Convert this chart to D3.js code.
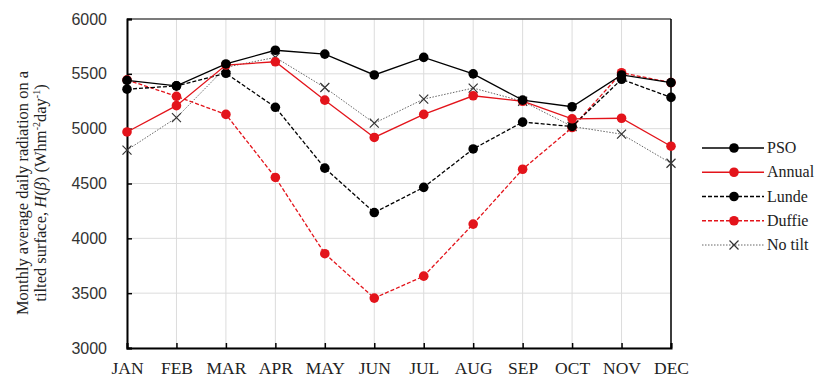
<!DOCTYPE html>
<html>
<head>
<meta charset="utf-8">
<script src="https://cdnjs.cloudflare.com/ajax/libs/d3/7.8.5/d3.min.js"></script>
<style>
  html, body { margin: 0; padding: 0; background: #fff; }
  svg { display: block; }
</style>
</head>
<body>
<svg id="chart" width="832" height="381"></svg>
<script>
// Monthly average daily radiation on a tilted surface (Wh/m²/day)
const months = ["JAN", "FEB", "MAR", "APR", "MAY", "JUN", "JUL", "AUG", "SEP", "OCT", "NOV", "DEC"];
const pso    = [5440, 5390, 5590, 5715, 5680, 5490, 5650, 5500, 5260, 5200, 5490, 5420];
const annual = [4970, 5210, 5580, 5610, 5260, 4920, 5130, 5300, 5250, 5090, 5095, 4840];
const lunde  = [5360, 5390, 5505, 5195, 4640, 4235, 4465, 4815, 5060, 5020, 5450, 5285];
const duffie = [5445, 5295, 5130, 4555, 3860, 3455, 3655, 4130, 4630, 5010, 5510, 5420];
const noTilt = [4805, 5100, 5560, 5650, 5375, 5050, 5270, 5370, 5250, 5020, 4950, 4685];
const yTicks = [3000, 3500, 4000, 4500, 5000, 5500, 6000];
const seriesNames = ["PSO", "Annual", "Lunde", "Duffie", "No tilt"];

const RED = "#e3141b";
const styles = [
  { values: pso,    color: "#000", width: 1.3, dash: null,  marker: "dot", mcolor: "#000" },
  { values: annual, color: RED,    width: 1.3, dash: null,  marker: "dot", mcolor: RED },
  { values: lunde,  color: "#000", width: 1.3, dash: "4,2", marker: "dot", mcolor: "#000" },
  { values: duffie, color: RED,    width: 1.3, dash: "4,2", marker: "dot", mcolor: RED },
  { values: noTilt, color: "#666", width: 1,   dash: "1.5,1.5", marker: "x", mcolor: "#333" }
];

const svg = d3.select("#chart");
const plotL = 127, plotR = 671, plotT = 19, plotB = 348;

const x = d3.scalePoint().domain(months).range([plotL, plotR]).padding(0);
const y = d3.scaleLinear().domain([3000, 6000]).range([plotB, plotT]);

// gridlines
const grid = svg.append("g");
grid.selectAll("line.gy").data(yTicks).join("line")
  .attr("class", "gy")
  .attr("x1", plotL).attr("x2", plotR)
  .attr("y1", d => y(d)).attr("y2", d => y(d))
  .attr("stroke", "#dcdcdc").attr("stroke-width", 1);
grid.selectAll("line.gx").data(months).join("line")
  .attr("class", "gx")
  .attr("x1", d => x(d)).attr("x2", d => x(d))
  .attr("y1", plotT).attr("y2", plotB)
  .attr("stroke", "#dcdcdc").attr("stroke-width", 1);

// frame
svg.append("line").attr("x1", plotL).attr("x2", plotR).attr("y1", plotT).attr("y2", plotT)
  .attr("stroke", "#555").attr("stroke-width", 1.5);
svg.append("line").attr("x1", plotR).attr("x2", plotR).attr("y1", plotT).attr("y2", plotB)
  .attr("stroke", "#000").attr("stroke-width", 1.5);

// y axis (ticks pointing inward)
const yAxis = d3.axisLeft(y).tickValues(yTicks).tickSize(-5).tickPadding(20).tickFormat(d3.format("d"));
const gy = svg.append("g").attr("transform", `translate(${plotL},0)`).call(yAxis);
gy.select(".domain").attr("stroke", "#000").attr("stroke-width", 2);
gy.selectAll(".tick line").attr("stroke", "#000").attr("stroke-width", 1.5);
gy.selectAll(".tick text")
  .attr("font-family", "'Liberation Sans', Arial, sans-serif")
  .attr("font-size", 16).attr("fill", "#333");

// x axis (ticks pointing inward)
const xAxis = d3.axisBottom(x).tickSize(-5).tickPadding(14);
const gx = svg.append("g").attr("transform", `translate(0,${plotB})`).call(xAxis);
gx.select(".domain").attr("stroke", "#000").attr("stroke-width", 2);
gx.selectAll(".tick line").attr("stroke", "#000").attr("stroke-width", 1.5);
gx.selectAll(".tick text")
  .attr("font-family", "'Liberation Serif', 'Times New Roman', serif")
  .attr("font-size", 17.5).attr("fill", "#222");

// y axis title, two lines
const serif = "'Liberation Serif', 'Times New Roman', serif";
svg.append("text")
  .attr("transform", "translate(28,193) rotate(-90)")
  .attr("text-anchor", "middle")
  .attr("font-family", serif).attr("font-size", 16.5).attr("fill", "#222")
  .text("Monthly average daily radiation on a");

const l2 = svg.append("text")
  .attr("transform", "translate(46,193) rotate(-90)")
  .attr("text-anchor", "middle")
  .attr("font-family", serif).attr("font-size", 16.5).attr("fill", "#222");
l2.append("tspan").text("tilted surface, ");
l2.append("tspan").attr("font-style", "italic").text("H");
l2.append("tspan").text("(");
l2.append("tspan").attr("font-style", "italic").text("β");
l2.append("tspan").text(") (Whm");
l2.append("tspan").attr("font-size", 10).attr("dy", -6).text("-2");
l2.append("tspan").attr("dy", 6).text("day");
l2.append("tspan").attr("font-size", 10).attr("dy", -6).text("-1");
l2.append("tspan").attr("dy", 6).text(")");

// series
const lineGen = d3.line().x((d, i) => x(months[i])).y(d => y(d));
function drawMarker(g, mx, my, s) {
  if (s.marker === "dot") {
    g.append("circle").attr("cx", mx).attr("cy", my).attr("r", 4.8).attr("fill", s.mcolor);
  } else {
    const r = 4.5;
    g.append("path")
      .attr("d", `M${mx - r},${my - r}L${mx + r},${my + r}M${mx - r},${my + r}L${mx + r},${my - r}`)
      .attr("stroke", s.mcolor).attr("stroke-width", 1.2).attr("fill", "none");
  }
}

[4, 3, 2, 1, 0].forEach(k => {
  const s = styles[k];
  const g = svg.append("g");
  g.append("path").attr("d", lineGen(s.values))
    .attr("fill", "none").attr("stroke", s.color).attr("stroke-width", s.width)
    .attr("stroke-dasharray", s.dash);
  s.values.forEach((v, i) => drawMarker(g, x(months[i]), y(v), s));
});

// legend
const legend = svg.append("g");
const legY = d3.scalePoint().domain(seriesNames).range([148, 245]);
seriesNames.forEach((name, k) => {
  const s = styles[k];
  const ly = legY(name);
  legend.append("line").attr("x1", 702).attr("x2", 764).attr("y1", ly).attr("y2", ly)
    .attr("stroke", s.color).attr("stroke-width", s.width).attr("stroke-dasharray", s.dash);
  drawMarker(legend, 734, ly, s);
  legend.append("text").attr("x", 767).attr("y", ly + 5)
    .attr("font-family", serif)
    .attr("font-size", 16).attr("fill", "#222").text(name);
});
</script>
</body>
</html>
